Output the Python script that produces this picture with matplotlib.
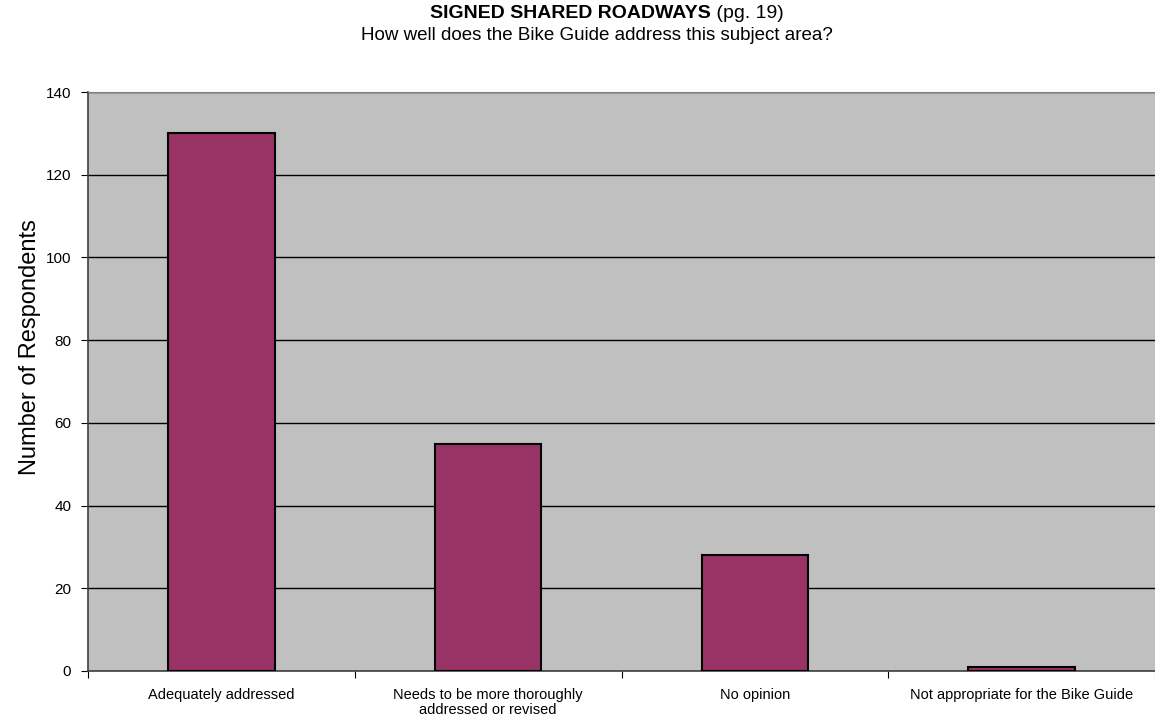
import matplotlib

matplotlib.use("Agg")
import matplotlib.pyplot as plt
import numpy as np

plt.rcParams["font.family"] = ["Liberation Sans", "DejaVu Sans"]

categories = [
    "Adequately addressed",
    "Needs to be more thoroughly\naddressed or revised",
    "No opinion",
    "Not appropriate for the Bike Guide",
]
respondents = [130, 55, 28, 1]
y_ticks = [0, 20, 40, 60, 80, 100, 120, 140]

W, H = 1155, 724
fig = plt.figure(figsize=(W / 100, H / 100), dpi=100)
ax = fig.add_axes([88 / W, 53 / H, 1 - 88 / W, 579 / H])
ax.set_facecolor("#C0C0C0")

x = np.arange(len(categories))
ax.bar(x, respondents, width=0.4, color="#993366", edgecolor="black", linewidth=1.5, zorder=3)

ax.set_xlim(-0.5, len(categories) - 0.5)
ax.set_ylim(0, 140)
ax.set_yticks(y_ticks)
ax.yaxis.grid(True, color="black", linewidth=1, zorder=1)
ax.tick_params(axis="y", direction="out", length=5, labelsize=11, pad=7)

# categories sit between tick marks on the x axis
ax.set_xticks(np.arange(len(categories) + 1) - 0.5)
ax.set_xticklabels([])
ax.set_xticks(x, minor=True)
ax.set_xticklabels(categories, minor=True, fontsize=10.5, linespacing=1.15)
ax.tick_params(axis="x", which="major", direction="out", length=5)
ax.tick_params(axis="x", which="minor", length=0, pad=12)

for side in ["left", "bottom"]:
    ax.spines[side].set_color("#404040")
    ax.spines[side].set_linewidth(1.2)
ax.spines["top"].set_color("#808080")
ax.spines["right"].set_visible(False)

fig.text(30 / W, 1 - 347 / H, "Number of Respondents", fontsize=17, rotation=90,
         ha="center", va="center")

# title: bold heading followed by the page reference in normal weight
fig.canvas.draw()
renderer = fig.canvas.get_renderer()
t_bold = fig.text(0, 1 - 14 / H, "SIGNED SHARED ROADWAYS", fontsize=14, fontweight="bold",
                  ha="left", va="center")
t_norm = fig.text(0, 1 - 14 / H, " (pg. 19)", fontsize=14, ha="left", va="center")
w_bold = t_bold.get_window_extent(renderer).width
w_norm = t_norm.get_window_extent(renderer).width
start = 607 - (w_bold + w_norm) / 2
t_bold.set_x(start / W)
t_norm.set_x((start + w_bold) / W)
fig.text(597 / W, 1 - 36 / H, "How well does the Bike Guide address this subject area?",
         fontsize=13.5, ha="center", va="center")

fig.savefig("out.png", dpi=100)
